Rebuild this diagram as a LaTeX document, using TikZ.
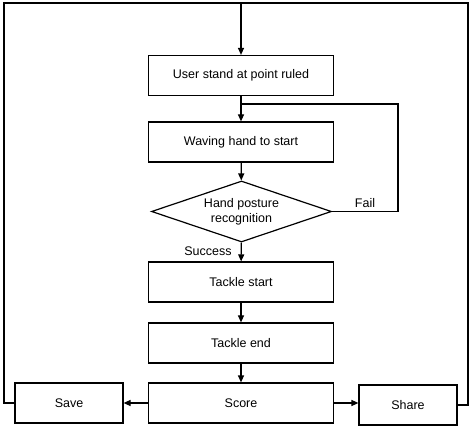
\documentclass[tikz,border=0pt]{standalone}
\usepackage{fontspec}
\setmainfont{Liberation Sans}
\usetikzlibrary{shapes.geometric,arrows.meta}
\begin{document}
\begin{tikzpicture}[x=1pt,y=-1pt,
  box/.style={draw,line width=1.2pt,rectangle,inner sep=0pt,minimum width=185pt,minimum height=40pt,font=\fontsize{12.5}{15}\selectfont},
  dec/.style={draw,line width=1.2pt,diamond,aspect=3,inner sep=0pt,minimum width=180pt,minimum height=61pt,align=center,font=\fontsize{12.5}{15}\selectfont},
  arr/.style={line width=1.2pt,-{Triangle[length=7pt,width=6pt]}},
  ln/.style={line width=1.2pt},
  lbl/.style={font=\fontsize{12.5}{15}\selectfont,inner sep=0pt}]
\useasboundingbox (0,0) rectangle (474,430);
\node[box] (user) at (241,75.5) {User stand at point ruled};
\node[box] (wave) at (241,142) {Waving hand to start};
\node[dec] (rec) at (241.5,211.5) {Hand posture\\recognition};
\node[box] (ts) at (241,282) {Tackle start};
\node[box] (te) at (241,343) {Tackle end};
\node[box] (score) at (241,403) {Score};
\node[box,minimum width=108pt] (save) at (69,403) {Save};
\node[box,minimum width=98pt] (share) at (408,405) {Share};
\coordinate (top) at (241,3);
\coordinate (tl) at (4,3);
\coordinate (tr) at (468,3);
\coordinate (fb) at (241,104);
\draw[arr] (top) -- (user);
\draw[arr] (user) -- (wave);
\draw[arr] (wave) -- (rec);
\draw[arr] (rec) -- (ts);
\draw[arr] (ts) -- (te);
\draw[arr] (te) -- (score);
\draw[arr] (score) -- (save);
\draw[arr] (score.east) -- (share.west |- score.east);
\draw[ln] (save.west) -- (tl |- save.west) -- (tl) -- (tr) -- (tr |- share.east) -- (share.east);
\draw[ln] (rec.east) -- (398,211.5) -- (398,104) -- (fb);
\node[lbl] (fail) at (365,203) {Fail};
\node[lbl] (succ) at (208,251) {Success};
\end{tikzpicture}
\end{document}
